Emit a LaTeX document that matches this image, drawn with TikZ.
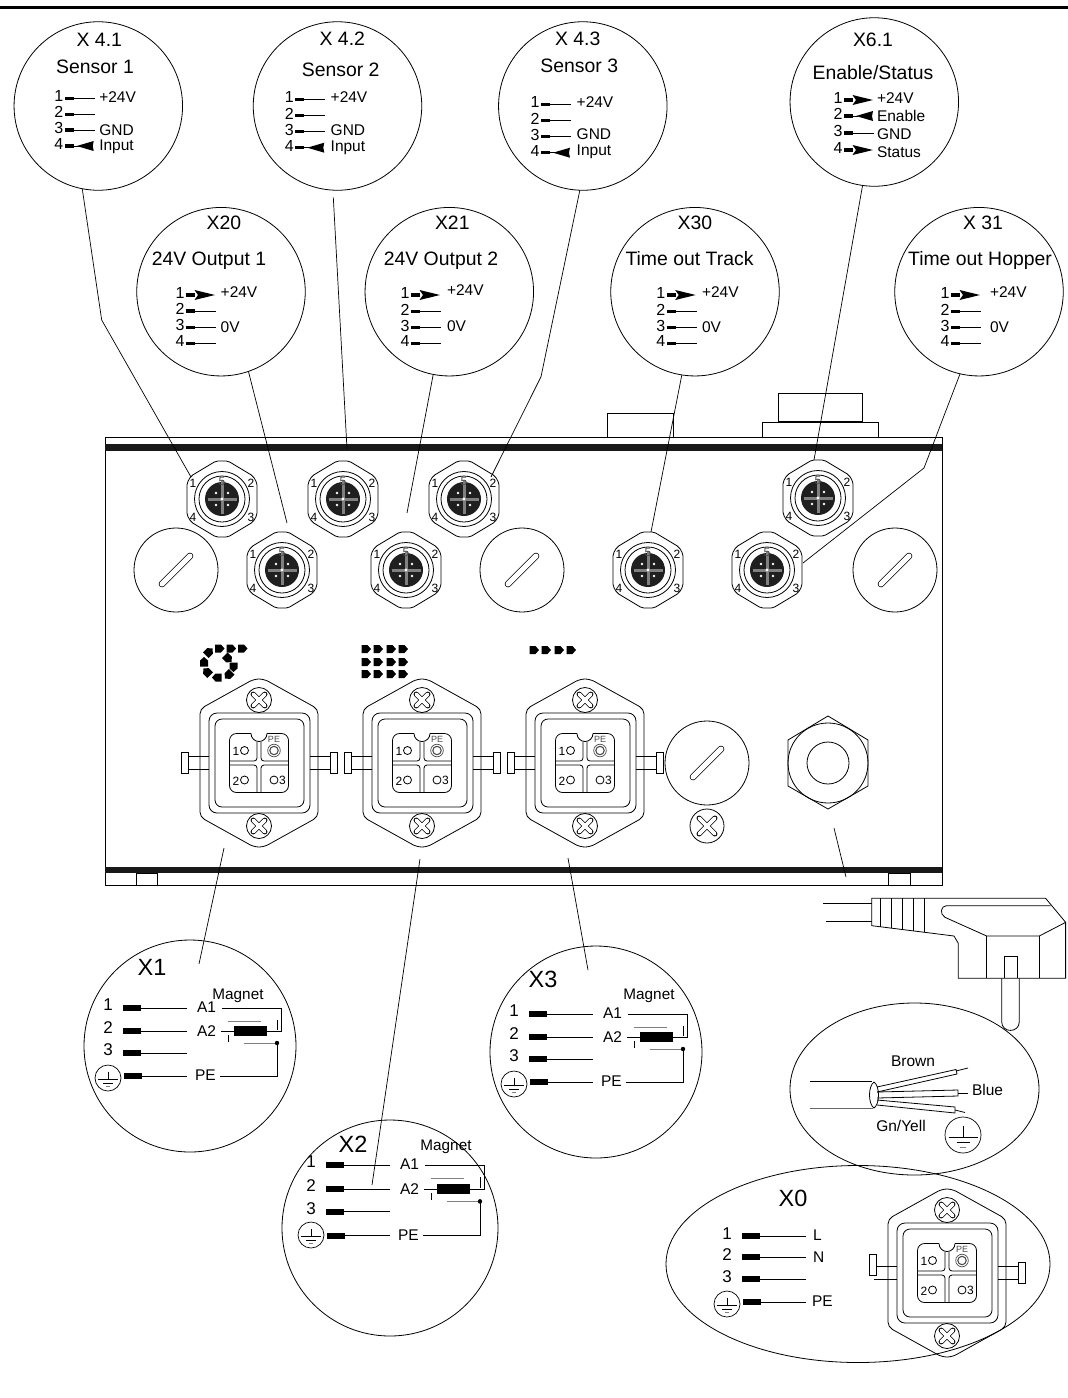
\documentclass[tikz,border=0pt]{standalone}
\usepackage{fontspec}
\usetikzlibrary{shapes.geometric}
\setmainfont{Liberation Sans}
\newcommand{\fs}[1]{\fontsize{#1}{#1}\selectfont}
\tikzset{
  every node/.style={inner sep=0pt,outer sep=0pt},
  ln/.style={line width=0.8pt,black},
  callout/.style={circle,draw,line width=0.8pt,minimum size=168.5pt},
  capc/.style={text height=0.72em,text depth=0pt},
  ttl/.style={font=\fs{19.4},capc},
  lab/.style={font=\fs{15.5},anchor=west,capc},
  num/.style={font=\fs{16},capc},
  blab/.style={font=\fs{15.5},anchor=west,capc},
  bnum/.style={font=\fs{17},capc},
  big/.style={font=\fs{23.5},capc},
  leader/.style={line width=0.7pt,black},
}
% small pin rows: x y number kind
\newcommand{\spin}[4]{%
  \fill (#1+6,#2-1.6) rectangle (#1+15,#2+1.6);
  \node[num] at (#1,#2) {#3};
  \ifnum#4=0 \draw[ln] (#1+15,#2) -- (#1+36,#2);\fi
  \ifnum#4=1 \fill (#1+14.5,#2-5) -- (#1+35,#2) -- (#1+14.5,#2+5) -- (#1+18,#2) -- cycle;\fi
  \ifnum#4=2 \draw[ln] (#1+15,#2) -- (#1+20,#2); \fill (#1+18,#2) -- (#1+35,#2-5) -- (#1+34,#2) -- (#1+35,#2+5) -- cycle;\fi
}
\newcommand{\earth}[3]{%
  \begin{scope}[shift={(#1,#2)},scale=#3/18]
    \draw[line width=0.7pt] (0,0) circle[radius=18];
    \draw[line width=0.7pt] (0,-9) -- (0,2);
    \draw[line width=0.7pt] (-14.5,2) -- (14.5,2);
    \draw[line width=0.7pt] (-6.5,7) -- (6.5,7);
    \draw[line width=0.7pt,gray] (-3,12) -- (3,12);
  \end{scope}}
\newcommand{\bpin}[3]{% x y num : big row
  \node[bnum] at (#1,#2) {#3};
  \fill (#1+15,#2-3) rectangle (#1+33,#2+3);
  \draw[ln] (#1+33,#2) -- (#1+79,#2);}
% magnet wiring block
\newcommand{\magblock}[6]{% x y name yscale magnet-x magnet-y
  \begin{scope}[shift={(#1,#2)},yscale=#4]
    \node[bnum] (#3n1) at (0,-1) {1};
    \node[bnum] (#3n2) at (0,22) {2};
    \node[bnum] (#3n3) at (0,44) {3};
    \fill (15,-3) rectangle (33,3);
    \fill (15,20) rectangle (33,26);
    \fill (15,42) rectangle (33,48);
    \fill (16,65) rectangle (34,71);
    \draw[ln] (33,0) -- (79,0);
    \draw[ln] (33,23) -- (79,23);
    \draw[ln] (33,45) -- (79,45);
    \draw[ln] (34,68) -- (79,68);
    \node[blab] (#3a1) at (89,1) {A1};
    \node[blab] (#3a2) at (89,25) {A2};
    \node[blab] (#3pe) at (87,69) {PE};
    \node[font=\fs{15.3},capc] (#3m) at (#5,#6) {Magnet};
    \draw[ln] (114,0) -- (173,0) -- (173,23) -- (159,23);
    \draw[ln] (113,23) -- (126,23);
    \fill (126,18) rectangle (159,28);
    \draw[line width=0.8pt,gray] (120,13) -- (153,13);
    \draw[ln] (120,27) -- (120,34);
    \draw[ln] (169,12) -- (169,22);
    \draw[line width=0.9pt,gray] (136,35) -- (169,35);
    \fill (169,35) circle[radius=2.2];
    \draw[ln] (169,35) -- (169,68) -- (112,68);
  \end{scope}
  \earth{#1}{#2+70}{13}}
\newcommand{\mtwelve}[3]{% x y name
  \begin{scope}[shift={(#1,#2)}]
    \node[minimum size=1pt] (#3) at (0,0) {};
    \draw[ln,rounded corners=2pt] (-6,-38) -- (6,-38) -- (31,-23) -- (35,-16) -- (35,16) -- (31,23) -- (6,38) -- (-6,38) -- (-31,23) -- (-35,16) -- (-35,-16) -- (-31,-23) -- cycle;
    \draw[ln] (0,0) circle[radius=27.5];
    \draw[ln] (0,0) circle[radius=23];
    \fill[black!88] (0,0) circle[radius=17];
    \draw[line width=3pt,black!50] (-14.5,0) -- (14.5,0) (0,-19) -- (0,14.5);
    \fill[white] (0,0) circle[radius=1.6];
    \fill[white] (-6,-6) circle[radius=1.4] (6,-6) circle[radius=1.4] (-6,6) circle[radius=1.4] (6,6) circle[radius=1.4];
    \node[font=\fs{12},capc] at (-29,-15) {1};
    \node[font=\fs{12},capc] at (29,-15) {2};
    \node[font=\fs{12},capc] at (29,19) {3};
    \node[font=\fs{12},capc] at (-29,19) {4};
    \node[font=\fs{12},capc,text=black!70] at (0,-17) {5};
  \end{scope}}
\newcommand{\screw}[3]{% x y r
  \begin{scope}[shift={(#1,#2)},scale=#3/12.5]
    \draw[ln] (0,0) circle[radius=12.5];
    \draw[line width=5.2pt,line cap=round,black] (-5.8,-5.8) -- (5.8,5.8) (-5.8,5.8) -- (5.8,-5.8);
    \draw[line width=3.8pt,line cap=round,white] (-5.8,-5.8) -- (5.8,5.8) (-5.8,5.8) -- (5.8,-5.8);
  \end{scope}}
\newcommand{\blind}[2]{% x y
  \begin{scope}[shift={(#1,#2)}]
    \draw[ln] (0,0) circle[radius=42];
    \draw[line width=6.6pt,line cap=round,black] (-14,14) -- (14,-14);
    \draw[line width=5pt,line cap=round,white] (-14,14) -- (14,-14);
  \end{scope}}
\newcommand{\harting}[3]{% x y leftcap-offset
  \begin{scope}[shift={(#1,#2)}]
    \draw[ln,rounded corners=5pt] (-59,-54) -- (-5,-84) -- (5,-84) -- (59,-54) -- (59,54) -- (5,84) -- (-5,84) -- (-59,54) -- cycle;
    \draw[ln,rounded corners=8pt] (-50,-50) rectangle (51,50);
    \draw[ln,rounded corners=7pt] (-44,-44) rectangle (45,44);
    \draw[ln] (-50,-6.5) -- (-73,-6.5) (-50,6.5) -- (-73,6.5);
    \draw[ln] (51,-6.5) -- (72,-6.5) (51,6.5) -- (72,6.5);
    \draw[ln,fill=white] (-78,{-10.5+#3}) rectangle (-71,{10.5+#3});
    \draw[ln,fill=white] (71,-10.5) rectangle (78,10.5);
    \draw[ln,rounded corners=7pt] (-29.5,-29.5) rectangle (29.5,29.5);
    \fill[white] (-8,-30.5) rectangle (8,-28.5);
    \draw[ln] (-8,-29.5) arc[start angle=180,end angle=0,radius=8];
    \draw[ln,rounded corners=3pt] (-2,-21.5) -- (-2,-2) -- (-29.5,-2);
    \draw[ln,rounded corners=3pt] (2,-21.5) -- (2,-2) -- (29.5,-2);
    \draw[ln,rounded corners=3pt] (-2,29.5) -- (-2,2) -- (-29.5,2);
    \draw[ln,rounded corners=3pt] (2,29.5) -- (2,2) -- (29.5,2);
    \draw[ln] (-14.5,-12.5) circle[radius=4];
    \draw[ln] (-14.5,17) circle[radius=4];
    \draw[ln] (15,17) circle[radius=4];
    \draw[line width=0.7pt,black!70] (15,-12.5) circle[radius=6.3];
    \draw[line width=1.1pt,black!70] (15,-12.5) circle[radius=4.2];
    \node[font=\fs{12},capc] at (-23,-11.5) {1};
    \node[font=\fs{12},capc] at (-23,18.5) {2};
    \node[font=\fs{12},capc] at (23.5,18) {3};
    \node[font=\fs{9},capc,text=black!70] at (15,-24) {PE};
    \screw{0}{-63}{12.5}
    \screw{0}{63}{12.5}
  \end{scope}}
\newcommand{\pent}[3]{\fill[shift={(#1,#2)},rotate=#3] (-4.5,-4) -- (1.5,-4) -- (5,0) -- (1.5,4) -- (-4.5,4) -- cycle;}
\begin{document}
\begin{tikzpicture}[x=1pt,y=-1pt]
\useasboundingbox (0,0) rectangle (1068,1398);
\fill[black] (0,5.8) rectangle (1068,8.5);

% housing
\draw[ln,line width=1pt] (105,437) rectangle (942,885);
\fill[black!90] (105,444) rectangle (942,450.5);
\fill[black!90] (105,867) rectangle (942,873);
\draw[ln] (136,873) rectangle (157,885);
\draw[ln] (888,873) rectangle (910,885);
\draw[ln] (607,437) -- (607,413) -- (673,413) -- (673,437);
\draw[ln] (762,437) -- (762,422) -- (878,422) -- (878,437);
\draw[ln] (778,422) -- (778,393) -- (862,393) -- (862,422);
\draw[line width=1.2pt] (778,422) -- (862,422);

% M12 sockets
\mtwelve{222}{499}{s41}
\mtwelve{343}{499}{s42}
\mtwelve{464}{499}{s43}
\mtwelve{818}{498}{s61}
\mtwelve{282}{570}{s20}
\mtwelve{406}{570}{s21}
\mtwelve{648}{570}{s30}
\mtwelve{767}{570}{s31}
\blind{176}{570}
\blind{522}{570}
\blind{895}{570}
% power connectors
\harting{259}{763}{0}
\harting{422}{763}{0}
\harting{585}{763}{0}
\blind{707}{763}
\screw{707}{826}{17}
% gland
\draw[ln] (828,716) -- (868,740) -- (868,786) -- (828,809) -- (788,786) -- (788,740) -- cycle;
\draw[ln] (828,763) circle[radius=40];
\draw[ln] (828,763) circle[radius=21];
% symbols
\pent{204}{662}{90}\pent{209}{652}{45}\pent{219.5}{648.5}{0}\pent{231}{648.5}{0}\pent{242.5}{648.5}{0}
\pent{228}{658.5}{-45}\pent{233.5}{667}{-90}\pent{228.5}{675}{-135}\pent{217}{677.5}{180}\pent{207}{672}{135}
\foreach \yy in {649,662,674}{\foreach \xx in {366,378,391,403}{\pent{\xx}{\yy}{0}}}
\foreach \xx in {534,546,559,571}{\pent{\xx}{650}{0}}

% callouts top
\node[callout] (c41) at (98.3,106) {};
\node[callout] (c42) at (337.5,106) {};
\node[callout] (c43) at (582.8,106) {};
\node[callout] (c61) at (874.3,102) {};
\node[callout] (c20) at (221,291.7) {};
\node[callout] (c21) at (449.3,291.7) {};
\node[callout] (c30) at (695,291.7) {};
\node[callout] (c31) at (979,291.7) {};

\node[ttl] (t41) at (99.3,42.7) {X 4.1};
\node[ttl] (u41) at (95,70) {Sensor 1};
\spin{58.7}{98.3}{1}{0}\spin{58.7}{114.3}{2}{0}\spin{58.7}{130}{3}{0}\spin{58.7}{146}{4}{2}
\node[lab] at (99.3,99) {+24V};\node[lab] at (99.3,132) {GND};\node[lab] at (99.3,147) {Input};

\node[ttl] (t42) at (342.3,42.3) {X 4.2};
\node[ttl] (u42) at (340.7,73.3) {Sensor 2};
\spin{289.3}{99.3}{1}{0}\spin{289.3}{115.7}{2}{0}\spin{289.3}{131.7}{3}{0}\spin{289.3}{147.7}{4}{2}
\node[lab] at (330.7,99.3) {+24V};\node[lab] at (330.7,131.7) {GND};\node[lab] at (330.7,147.5) {Input};

\node[ttl] (t43) at (577.7,42.3) {X 4.3};
\node[ttl] (u43) at (579.3,69.3) {Sensor 3};
\spin{535}{104.3}{1}{0}\spin{535}{120.7}{2}{0}\spin{535}{136.7}{3}{0}\spin{535}{152.7}{4}{2}
\node[lab] at (576.7,103.7) {+24V};\node[lab] at (576.7,135.7) {GND};\node[lab] at (576.7,151.5) {Input};

\node[ttl] (t61) at (873,43) {X6.1};
\node[ttl] (u61) at (873,76) {Enable/Status};
\spin{838}{100}{1}{1}\spin{838}{116}{2}{2}\spin{838}{133}{3}{0}\spin{838}{150}{4}{1}
\node[lab] at (877,100) {+24V};\node[lab] at (877,118) {Enable};\node[lab] at (877,136) {GND};\node[lab] at (877,154) {Status};

\node[ttl] (t20) at (224,225.7) {X20};
\node[ttl] (u20) at (209,261.7) {24V Output 1};
\spin{180}{295}{1}{1}\spin{180}{311}{2}{0}\spin{180}{327.3}{3}{0}\spin{180}{343.3}{4}{0}
\node[lab] at (220.7,294) {+24V};\node[lab] at (220.7,329) {0V};

\node[ttl] (t21) at (452.3,225.7) {X21};
\node[ttl] (u21) at (441,261.7) {24V Output 2};
\spin{405}{295}{1}{1}\spin{405}{311.7}{2}{0}\spin{405}{327.7}{3}{0}\spin{405}{343.3}{4}{0}
\node[lab] at (447,291.7) {+24V};\node[lab] at (447,328.3) {0V};

\node[ttl] (t30) at (695,225.7) {X30};
\node[ttl] (u30) at (689.5,261.7) {Time out Track};
\spin{660.7}{295}{1}{1}\spin{660.7}{311.7}{2}{0}\spin{660.7}{327.7}{3}{0}\spin{660.7}{343.3}{4}{0}
\node[lab] at (702,294) {+24V};\node[lab] at (702,329) {0V};

\node[ttl] (t31) at (983,225.7) {X 31};
\node[ttl] (u31) at (980,261.7) {Time out Hopper};
\spin{945}{295}{1}{1}\spin{945}{311.7}{2}{0}\spin{945}{327.7}{3}{0}\spin{945}{343.3}{4}{0}
\node[lab] at (990,294) {+24V};\node[lab] at (990,329) {0V};

% bottom callouts
\node[circle,draw,line width=0.8pt,minimum size=212pt] (cx1) at (190,1046) {};
\node[circle,draw,line width=0.8pt,minimum size=212pt] (cx3) at (596,1052) {};
\node[circle,draw,line width=0.8pt,minimum size=216pt] (cx2) at (390,1228) {};
\node[big] (tx1) at (152,972) {X1};
\node[big] (tx3) at (543,984) {X3};
\node[big] (tx2) at (353,1149) {X2};
\magblock{108}{1008}{a}{1}{130}{-12}
\magblock{514}{1014}{c}{1}{135}{-18}
\magblock{311}{1165}{b}{1.04}{135}{-17}

% X0
\node[ellipse,draw,line width=0.8pt,minimum width=384pt,minimum height=197pt] (cx0) at (858,1264) {};
\node[big] (tx0) at (793,1203) {X0};
\bpin{727}{1236}{1}\bpin{727}{1257}{2}\bpin{727}{1279}{3}
\fill (743,1299) rectangle (761,1305);
\draw[ln] (761,1302) -- (806,1302);
\earth{727}{1304}{13}
\node[blab] at (813,1237) {L};
\node[blab] at (813,1259) {N};
\node[blab] at (812,1303) {PE};
\harting{947}{1273}{-8}

% cable ellipse
\node[ellipse,draw,line width=0.8pt,minimum width=249pt,minimum height=172pt] (cbl) at (914.5,1089) {};
\draw[ln] (810,1081) -- (872,1081);
\draw[ln,black!60] (810,1108) -- (873,1108);
\draw[ln] (874,1082) .. controls (868,1086) and (868,1104) .. (874,1108);
\draw[ln] (874,1082) .. controls (880,1086) and (880,1104) .. (874,1108);
\draw[ln] (877,1087) -- (956,1069.5) -- (957,1074) -- (877,1092);
\draw[ln] (956,1071) -- (968,1068);
\draw[ln] (877,1092) -- (958,1090) -- (958,1096) -- (877,1098);
\draw[ln] (958,1093) -- (968,1093);
\draw[ln] (877,1100) -- (955,1107) -- (955,1113) -- (877,1105);
\draw[ln] (955,1110) -- (965,1112.5);
\node[font=\fs{15.5},capc] (brown) at (913,1063) {Brown};
\node[font=\fs{15.5},capc,anchor=west] (blue) at (972,1092) {Blue};
\node[font=\fs{15.5},capc] (gy) at (901,1128) {Gn/Yell};
\earth{963}{1135}{18}

% mains plug
\begin{scope}[shift={(780,860)},x=0.3333pt,y=-0.3333pt]
  \draw[ln] (275,115) -- (797,115) -- (857,187) -- (857,355) -- (535,355) -- (535,250) -- (522,228) -- (275,197) -- cycle;
  \draw[ln] (302,115) -- (302,200) (333,115) -- (333,205) (366,115) -- (366,209) (400,115) -- (400,213) (432,115) -- (432,217);
  \draw[ln] (812,137) -- (500,137) .. controls (482,137) and (478,162) .. (495,172) -- (620,228) -- (778,228) -- (857,187);
  \draw[ln] (620,228) -- (620,355) (778,228) -- (778,355);
  \draw[ln] (672,355) -- (672,288) -- (713,288) -- (713,355);
  \draw[ln] (665,355) -- (665,485) .. controls (665,520) and (718,520) .. (718,485) -- (718,355);
  \draw[ln] (130,130) -- (275,130) (138,183) -- (275,183);
\end{scope}

% leaders
\coordinate (k41) at (101.7,320);
\coordinate (e41) at (191,477);
\draw[leader] (c41.-101.6) -- (k41) -- (e41);
\coordinate (s42) at (333.3,197.3);
\coordinate (e42) at (347,449);
\draw[leader] (s42) -- (e42);
\coordinate (k43) at (541,376.7);
\coordinate (e43) at (491,477);
\draw[leader] (c43.-92.4) -- (k43) -- (e43);
\coordinate (e61) at (814,460);
\draw[leader] (c61.-98.3) -- (e61);
\coordinate (e20) at (287,523);
\draw[leader] (c20.-71.4) -- (e20);
\coordinate (e21) at (407,513);
\draw[leader] (c21.-101.5) -- (e21);
\coordinate (e30) at (651,532);
\draw[leader] (c30.-99) -- (e30);
\coordinate (k31) at (924,468);
\coordinate (e31) at (803,563);
\draw[leader] (c31.-103.6) -- (k31) -- (e31);
\coordinate (b1s) at (224,848); \coordinate (b1e) at (199,964);
\draw[leader] (b1s) -- (b1e);
\coordinate (b2s) at (420,859); \coordinate (b2e) at (372,1185);
\draw[leader] (b2s) -- (b2e);
\coordinate (b3s) at (568,858); \coordinate (b3e) at (588,970);
\draw[leader] (b3s) -- (b3e);
\coordinate (b0s) at (834,828); \coordinate (b0e) at (846,877);
\draw[leader] (b0s) -- (b0e);
\end{tikzpicture}
\end{document}
